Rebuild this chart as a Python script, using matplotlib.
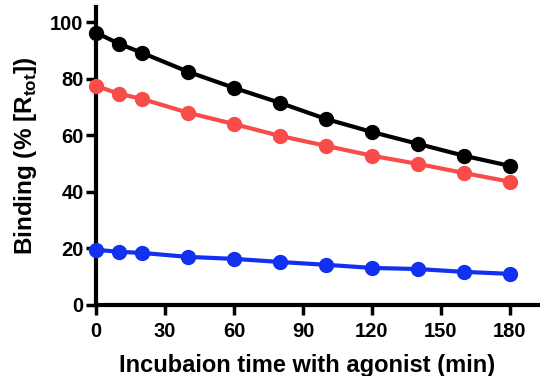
"""Binding decay over incubation time with agonist."""

import matplotlib
matplotlib.use("Agg")
import matplotlib.pyplot as plt

plt.rcParams["font.family"] = ["Liberation Sans", "DejaVu Sans"]
plt.rcParams["font.weight"] = "bold"
plt.rcParams["axes.labelweight"] = "bold"
plt.rcParams["mathtext.fontset"] = "custom"
plt.rcParams["mathtext.rm"] = "Liberation Sans:bold"
plt.rcParams["mathtext.bf"] = "Liberation Sans:bold"

time_min = [0, 10, 20, 40, 60, 80, 100, 120, 140, 160, 180]
binding_black = [96.3, 92.4, 89.2, 82.5, 76.8, 71.5, 65.8, 61.2, 57.0, 52.8, 49.2]
binding_red = [77.5, 74.7, 72.9, 68.0, 64.0, 59.8, 56.3, 52.8, 49.9, 46.7, 43.6]
binding_blue = [19.5, 18.8, 18.4, 17.0, 16.3, 15.2, 14.2, 13.1, 12.7, 11.7, 11.0]

x_ticks = [0, 30, 60, 90, 120, 150, 180]
y_ticks = [0, 20, 40, 60, 80, 100]

fig = plt.figure(figsize=(5.4, 3.76), dpi=100)
ax = fig.add_axes([0.178, 0.189, 0.83, 0.793])

series = [
    (binding_black, "#000000"),
    (binding_red, "#F84C4A"),
    (binding_blue, "#1230F0"),
]
for values, color in series:
    ax.plot(time_min, values, "-o", color=color, lw=3, markersize=10,
            clip_on=False, zorder=3)

ax.set_xlim(0, 195)
ax.set_ylim(0, 105.5)
ax.set_xticks(x_ticks)
ax.set_yticks(y_ticks)
ax.tick_params(width=2.5, length=7, labelsize=14.5)
ax.tick_params(axis="x", pad=5)
ax.tick_params(axis="y", pad=2)
for side in ("top", "right"):
    ax.spines[side].set_visible(False)
for side in ("left", "bottom"):
    ax.spines[side].set_linewidth(3)

ax.set_xlabel("Incubaion time with agonist (min)", fontsize=17)
ax.xaxis.set_label_coords(0.47, -0.165)
ax.set_ylabel(r"Binding (% [R$_{\mathbf{tot}}$])", fontsize=17.5)
ax.yaxis.set_label_coords(-0.128, 0.5)

fig.savefig("out.png", dpi=100)
